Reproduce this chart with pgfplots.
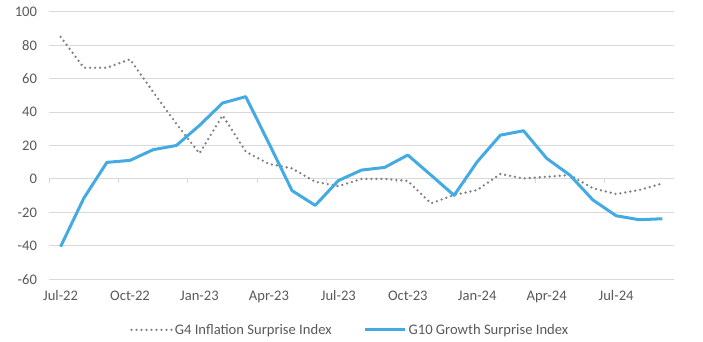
\documentclass[border=0pt]{standalone}
\usepackage{fontspec}
\setmainfont{Carlito}
\usepackage{pgfplots}
\pgfplotsset{compat=1.18}
\definecolor{gblue}{RGB}{68,170,228}
\definecolor{ggray}{RGB}{128,128,128}
\definecolor{gridc}{RGB}{217,217,217}
\definecolor{txt}{RGB}{89,89,89}
\begin{document}
\begin{tikzpicture}
\begin{axis}[
  name=ax,
  scale only axis,
  width=625pt, height=267.6pt,
  xmin=-0.5, xmax=26.5, ymin=-60, ymax=100,
  xtick={0,3,...,24},
  xticklabels={Jul-22,Oct-22,Jan-23,Apr-23,Jul-23,Oct-23,Jan-24,Apr-24,Jul-24},
  ytick={-60,-40,...,100},
  ymajorgrids,
  grid style={line width=1pt, color=gridc},
  axis line style={draw=none},
  major tick length=0pt,
  tick style={draw=none},
  /pgf/number format/assume math mode=true,
  ticklabel style={font=\fontsize{14.6}{17}\selectfont, text=txt},
  xticklabel style={yshift=-8pt},
  yticklabel style={xshift=-8.5pt},
  legend columns=2,
  legend style={at={(0.482,-0.189)}, anchor=center, draw=none, fill=none,
    font=\fontsize{14.6}{17}\selectfont, text=txt,
    /tikz/every even column/.append style={column sep=30pt}},
  legend image code/.code={\draw[#1] (0pt,0pt) -- (40pt,0pt);},
]
\pgfplotsinvokeforeach{-0.5,2.5,5.5,8.5,11.5,14.5,17.5,20.5,23.5,26.5}{
  \draw[gridc, line width=1pt] (axis cs:#1,0) -- ++(0pt,-4pt);
}
\draw[gridc, line width=1pt] (axis cs:-0.5,0) -- (axis cs:26.5,0);
\addplot[ggray, line width=2.6pt, line cap=round, dash pattern=on 0pt off 5pt] coordinates {
(0,85) (1,66.5) (2,66.5) (3,71.5) (4,52) (5,33) (6,15.3) (7,38) (8,16.3)
(9,9) (10,6.3) (11,-1.7) (12,-4.3) (13,0) (14,0) (15,-1.2) (16,-14.6)
(17,-9.6) (18,-6.6) (19,3) (20,0.3) (21,1.3) (22,2.3) (23,-5.6) (24,-9)
(25,-6.6) (26,-2.7)};
\addlegendentry{G4 Inflation Surprise Index}
\addplot[gblue, line width=3pt, line join=round] coordinates {
(0,-40.5) (1,-11.6) (2,9.9) (3,11.1) (4,17.5) (5,20) (6,32) (7,45.4) (8,49.2)
(9,21.3) (10,-7) (11,-15.8) (12,-1) (13,5.3) (14,6.9) (15,14.3) (16,2.3)
(17,-9.8) (18,10.3) (19,26.2) (20,28.8) (21,12.3) (22,2.3) (23,-12.6)
(24,-22) (25,-24.4) (26,-23.8)};
\addlegendentry{G10 Growth Surprise Index}
\end{axis}
\pgfresetboundingbox
\path ([xshift=-49pt,yshift=-62.7pt]ax.south west) rectangle ([xshift=29pt,yshift=11.7pt]ax.north east);
\end{tikzpicture}
\end{document}
